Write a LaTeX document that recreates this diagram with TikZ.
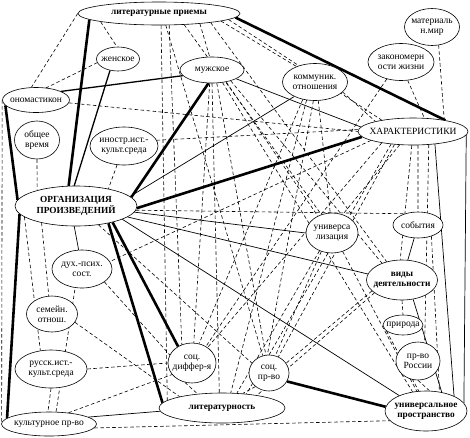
\documentclass[tikz,border=0pt]{standalone}
\usepackage{fontspec}
\setmainfont{Liberation Serif}
\usetikzlibrary{shapes.geometric,backgrounds}
\tikzset{
 nd/.style n args={2}{ellipse,draw,line width=0.6pt,inner sep=0pt,fill=white,minimum width=#1,minimum height=#2},
 lbl/.style={font=\fontsize{9.5}{9.8}\selectfont,align=center,inner sep=0pt},
 blbl/.style={font=\fontsize{9.3}{9.8}\selectfont\bfseries,align=center,inner sep=0pt},
 thk/.style={line width=2.6pt},
 med/.style={line width=1.3pt},
 thn/.style={line width=0.7pt},
 dsh/.style={line width=0.6pt,dash pattern=on 3.5pt off 2.5pt},
}
\begin{document}
\begin{tikzpicture}[x=1pt,y=-1pt]
\useasboundingbox (0,0) rectangle (470,437);
% nodes
\node[nd={162pt}{23pt},label={[blbl]center:литературные приемы}] (lit) at (159,13.5) {};
\node[nd={43pt}{24pt},label={[lbl]center:женское}] (zhen) at (118,59) {};
\node[nd={64pt}{26pt},label={[lbl]center:мужское}] (muzh) at (212,70) {};
\node[nd={67pt}{25pt},label={[lbl]center:ономастикон}] (onom) at (36,100) {};
\node[nd={45pt}{38pt},label={[lbl]center:общее\\время}] (obsh) at (37,140) {};
\node[nd={68pt}{38pt},label={[lbl]center:иностр.ист.-\\культ.среда}] (inostr) at (124,146) {};
\node[nd={65pt}{37pt},label={[lbl]center:коммуник.\\отношения}] (komm) at (315,82) {};
\node[nd={66pt}{37pt},label={[lbl]center:закономерн\\ости жизни}] (zakon) at (401,62) {};
\node[nd={55pt}{37pt},label={[lbl]center:материаль\\н.мир}] (mater) at (432,27) {};
\node[nd={110pt}{27pt},label={[lbl]center:ХАРАКТЕРИСТИКИ}] (char) at (413,131.5) {};
\node[nd={122pt}{40pt},label={[blbl]center:ОРГАНИЗАЦИЯ\\ПРОИЗВЕДЕНИЙ}] (org) at (76,206) {};
\node[nd={60pt}{38pt},label={[lbl]center:дух.-псих.\\сост.}] (dukh) at (82,269) {};
\node[nd={52pt}{40pt},label={[lbl]center:универса\\лизация}] (univz) at (332,233) {};
\node[nd={50pt}{26pt},label={[lbl]center:события}] (sobyt) at (418,225) {};
\node[nd={71pt}{40pt},label={[blbl]center:виды\\деятельности}] (vidy) at (402,280) {};
\node[nd={51pt}{36pt},label={[lbl]center:семейн.\\отнош.}] (semeyn) at (52,314) {};
\node[nd={72pt}{38pt},label={[lbl]center:русск.ист.-\\культ.среда}] (russk) at (51,369) {};
\node[nd={48pt}{40pt},label={[lbl]center:соц.\\диффер-я}] (socdif) at (192,363) {};
\node[nd={40pt}{36pt},label={[lbl]center:соц.\\пр-во}] (socpr) at (269,373) {};
\node[nd={95pt}{24pt},label={[lbl]center:культурное пр-во}] (kult) at (49,424) {};
\node[nd={126pt}{30pt},label={[blbl]center:литературность}] (litnost) at (222,408) {};
\node[nd={40pt}{20pt},label={[lbl]center:природа}] (priroda) at (403,325) {};
\node[nd={44pt}{38pt},label={[lbl]center:пр-во\\России}] (prvo) at (418,361) {};
\node[nd={82pt}{40pt},label={[blbl]center:универсальное\\пространство}] (univpr) at (426,411) {};
% connectors
\begin{scope}[on background layer]
\fill[white] (0,0) rectangle (470,437);
% dashed
\draw[dsh] (lit.180) -- (onom.110);
\draw[dsh] (lit.188) -- (zhen.95);
\draw[dsh] (lit.-80) -- (litnost.172);
\draw[dsh] (lit.-49) -- (socdif.119);
\draw[dsh] (lit.-14) -- (muzh.100);
\draw[dsh] (lit.-7) -- (komm.140);
\draw[dsh] (lit.-5) -- (char.160);
\draw[dsh] (lit.-24) -- (univz.120);
\draw[dsh] (lit.-10) -- (vidy.130);
\draw[dsh] (lit.-60) -- (socpr.110);
\draw[dsh] (zhen.190) -- (onom.50);
\draw[dsh] (onom.-5) -- (char.180);
\draw[dsh] (onom.180) -- (kult.178);
\draw[dsh] (inostr.10) -- (char.178);
\draw[dsh] (inostr.250) -- (org.28);
\draw[dsh] (obsh.270) -- (org.158);
\draw[dsh] (org.-4) -- (sobyt.140);
\draw[dsh] (org.-40) -- (socpr.150);
\draw[dsh] (org.192) -- (russk.120);
\draw[dsh] (org.206) -- (semeyn.100);
\draw[dsh] (muzh.260) -- (socdif.85);
\draw[dsh] (muzh.-70) -- (socpr.100);
\draw[dsh] (muzh.-40) -- (univz.130);
\draw[dsh] (muzh.-30) -- (vidy.140);
\draw[dsh] (muzh.-50) -- (univpr.125);
\draw[dsh] (muzh.270) -- (litnost.100);
\draw[dsh] (komm.-20) -- (char.165);
\draw[dsh] (komm.235) -- (socdif.70);
\draw[dsh] (komm.265) -- (socpr.95);
\draw[dsh] (komm.-80) -- (univz.95);
\draw[dsh] (komm.245) -- (litnost.60);
\draw[dsh] (zakon.-70) -- (char.50);
\draw[dsh] (zakon.230) -- (socdif.50);
\draw[dsh] (mater.-70) -- (char.20);
\draw[dsh] (char.200) -- (socdif.45);
\draw[dsh] (char.215) -- (socpr.60);
\draw[dsh] (char.225) -- (univz.60);
\draw[dsh] (char.-70) -- (sobyt.90);
\draw[dsh] (char.265) -- (vidy.95);
\draw[dsh] (char.-40) -- (prvo.70);
\draw[dsh] (char.192) -- (dukh.15);
\draw[dsh] (char.210) -- (litnost.30);
\draw[dsh] (univz.-60) -- (univpr.115);
\draw[dsh] (univz.240) -- (socpr.70);
\draw[dsh] (univz.235) -- (litnost.45);
\draw[dsh] (vidy.270) -- (priroda.90);
\draw[dsh] (vidy.200) -- (socpr.30);
\draw[dsh] (vidy.205) -- (litnost.20);
\draw[dsh] (prvo.270) -- (univpr.80);
\draw[dsh] (priroda.200) -- (univpr.110);
\draw[dsh] (sobyt.-40) -- (univpr.55);
\draw[dsh] (dukh.-30) -- (socdif.160);
\draw[dsh] (kult.60) -- (dukh.250);
\draw[dsh] (kult.30) -- (socdif.210);
\draw[dsh] (kult.-5) -- (univpr.195);
\draw[dsh] (russk.0) -- (socdif.180);
\draw[dsh] (russk.270) -- (kult.95);
\draw[dsh] (semeyn.-20) -- (litnost.165);
\draw[dsh] (socdif.250) -- (litnost.150);
\draw[dsh] (socpr.225) -- (litnost.35);
% thin solid
\draw[thn] (org.10) -- (komm.215);
\draw[thn] (muzh.-20) -- (char.175);
\draw[thn] (org.-6) -- (univz.180);
\draw[thn] (org.-12) -- (vidy.170);
\draw[thn] (org.-16) -- (univpr.150);
\draw[thn] (sobyt) -- (vidy);
\draw[thn] (org.265) -- (dukh.100);
\draw[thn] (kult.10) -- (litnost.183);
\draw[thn] (char.-4) -- (univpr.12);
\draw[thn] (char.-30) -- (univpr.28);
\draw[thn] (vidy.-60) -- (univpr.50);
% medium
\draw[med] (onom.19) -- (muzh.191);
\draw[med] (zhen.235) -- (org.95);
% thick
\draw[thk] (lit.185) -- (org.110);
\draw[thk] (lit.-3) -- (char.19);
\draw[thk] (muzh.255) -- (org.9);
\draw[thk] (org.-2) -- (char.186);
\draw[thk] (onom.190) -- (org.174);
\draw[thk] (org.188) -- (kult.172);
\draw[thk] (org.-28) -- (litnost.175);
\draw[thk] (org.-24) -- (socdif.130);
\draw[thk] (socpr.-25) -- (univpr.174);
\end{scope}
\end{tikzpicture}
\end{document}
